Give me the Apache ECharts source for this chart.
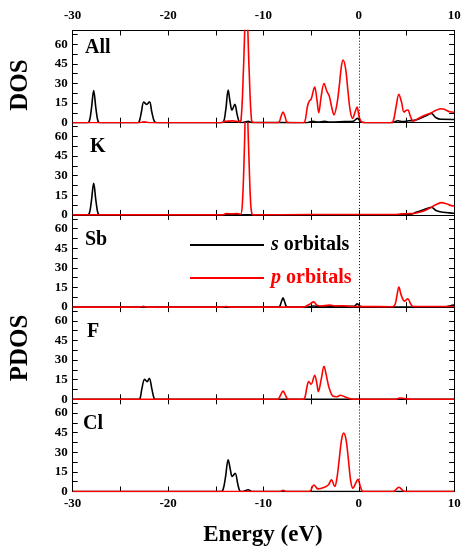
<!DOCTYPE html>
<html>
<head>
<meta charset="utf-8">
<script src="https://cdn.jsdelivr.net/npm/echarts@6/dist/echarts.min.js"></script>
<style>
  html, body { margin: 0; padding: 0; background: #fff; }
  #chart { width: 463px; height: 548px; }
</style>
</head>
<body>
<div id="chart"></div>
<script>
// Total and projected density of states, s (black) and p (red) channels, [energy eV, states]
const panelNames = ['All', 'K', 'Sb', 'F', 'Cl'];
const xTicks = [-30, -20, -10, 0, 10];
const yTicks = [0, 15, 30, 45, 60];

const allS = [[-30,0],[-28.6,0],[-28.3,0.5],[-28.05,10],[-27.8,24.5],[-27.55,10],[-27.3,0.5],[-27.0,0],
  [-23.3,0],[-23.05,0.5],[-22.8,8],[-22.55,15.8],[-22.25,14],[-21.95,16],[-21.7,8],[-21.4,0.5],[-21.1,0],
  [-14.5,0],[-14.2,0.5],[-13.95,10],[-13.7,25],[-13.5,16],[-13.3,9.5],[-13.0,14],[-12.75,6],[-12.5,0.5],[-12.2,0.2],[-11.6,1],[-11.2,0.2],
  [-5.5,0],[-4.8,1],[-4.3,0.5],[-3.6,1],[-3.0,0.5],[-1.5,0.8],[-0.6,1],[-0.15,3.3],[0.3,0.3],[0.8,0],
  [3.5,0],[4.1,1.5],[4.6,0.8],[5.2,1.5],[5.8,1.8],[6.5,3.5],[7.1,5.5],[7.6,7],[8.1,3.8],[8.6,2.6],[10,2.5]];
const allP = [[-30,0],[-23,0],[-22.5,0.6],[-22,0],[-14.5,0],[-14,1],[-13.2,1.4],[-12.6,0.8],
  [-12.35,2],[-12.1,40],[-11.8,95],[-11.5,40],[-11.25,2],[-11,0],
  [-8.6,0],[-8.35,0.5],[-8.15,5],[-7.95,8.2],[-7.75,5],[-7.55,0.5],[-7.3,0],
  [-5.9,0],[-5.65,1],[-5.4,12],[-5.2,16.5],[-5.0,18],[-4.63,27.3],[-4.4,18],[-4.2,7.6],[-3.95,20],[-3.65,30],[-3.35,24],[-3.1,20.4],[-2.85,12],
  [-2.6,6],[-2.3,14],[-2.05,28],[-1.85,42],[-1.66,48],[-1.4,42],[-1.15,25],[-0.9,9],[-0.65,3.3],[-0.4,8],[-0.19,12],[0.05,4],[0.3,0.5],[0.6,0],
  [3.3,0],[3.6,1],[3.9,12],[4.2,21.7],[4.5,15],[4.73,8.2],[5.0,9.5],[5.15,9.7],[5.4,5],[5.7,1.3],[6.2,3],[6.7,5],[7.2,6.5],[7.6,7.6],
  [8.1,9.5],[8.64,10.7],[9.1,9.8],[9.5,8.4],[10,8]];

const kS = [[-30,0],[-28.6,0],[-28.3,0.5],[-28.05,10],[-27.8,24.2],[-27.55,10],[-27.3,0.5],[-27,0],
  [4.5,0],[5.5,0.5],[6,2],[6.8,4],[7.6,5.9],[8.1,3.3],[8.8,2],[9.9,1.3],[10,1.2]];
const kP = [[-30,0],[-14.3,0],[-13.9,1],[-13.3,0.8],[-12.8,1],[-12.4,0.5],[-12.2,10],[-12.0,50],[-11.8,100],[-11.55,50],[-11.35,10],[-11.2,0.5],[-11,0],
  [-5,0.3],[0,0.3],[3.7,0.3],[4.5,0.8],[5.5,1],[6,1.5],[6.8,3],[7.4,5],[8,7.5],[8.64,9.4],[9.2,8.5],[9.85,6.9],[10,7]];

const sbS = [[-30,0],[-22.9,0],[-22.6,0.5],[-22.3,0],[-8.5,0],[-8.3,0.5],[-8.1,4.5],[-7.95,7.1],[-7.8,4.5],[-7.6,0.5],[-7.4,0],
  [-5.3,0],[-4.8,0.8],[-4,0.5],[-3,0.6],[-1.5,0.5],[-0.5,0.6],[-0.16,2.5],[0.2,0.4],[0.6,0],[9,0],[9.6,1],[10,1.5]];
const sbP = [[-30,0],[-23,0],[-22.6,0.5],[-22.2,0],[-14.3,0],[-13.9,0.5],[-13.5,0],[-6,0],[-5.6,0.5],[-5.1,2.5],[-4.73,4],[-4.4,1.5],[-4.0,0.8],
  [-3.06,1.5],[-2.5,0.8],[-1.6,1],[-0.8,0.5],[0.3,0.4],[3.5,0.3],[3.8,2],[4.0,9],[4.2,15.3],[4.45,9],[4.8,4.6],[5.14,6.4],[5.4,3],[5.7,0.5],[10,0.5]];

const fS = [[-30,0],[-23.2,0],[-22.95,0.5],[-22.75,8],[-22.46,15.3],[-22.2,13.5],[-21.97,16],[-21.7,8],[-21.45,0.5],[-21.2,0],[10,0]];
const fP = [[-30,0],[-8.6,0],[-8.4,0.5],[-8.15,4],[-7.94,6.4],[-7.75,4],[-7.5,0.5],[-7.3,0],
  [-5.9,0],[-5.67,1],[-5.45,9],[-5.25,13.5],[-5.0,11.5],[-4.63,18.4],[-4.4,12],[-4.24,5.9],[-3.95,15],[-3.65,25.2],[-3.4,18],[-3.12,8.9],
  [-2.7,2.3],[-2.3,2],[-1.94,3.1],[-1.5,2],[-0.96,0.5],[-0.5,0],[3.8,0],[4.3,1],[4.8,0.6],[5.5,0],[10,0]];

const clS = [[-30,0],[-14.6,0],[-14.3,0.5],[-14.0,10],[-13.7,24.2],[-13.45,16],[-13.28,11.5],[-12.97,14],[-12.7,6],[-12.48,0.5],[-12.2,0],
  [-11.6,1.3],[-11.2,0],[10,0]];
const clP = [[-30,0],[-8.3,0],[-7.94,1],[-7.6,0],[-5.2,0],[-4.7,5],[-4.28,2],[-3.6,3.3],[-3.2,5],[-2.88,8.9],[-2.53,3.8],
  [-2.3,10],[-2.05,25],[-1.8,40],[-1.59,44.6],[-1.35,40],[-1.1,25],[-0.85,8],[-0.61,2.5],[-0.35,6],[-0.09,9.4],[0.15,4],[0.36,0.3],[0.6,0],
  [3.6,0],[4.2,3.3],[4.7,0.3],[5,0],[10,0]];

const sSeries = [allS, kS, sbS, fS, clS];
const pSeries = [allP, kP, sbP, fP, clP];

const FONT = "'Liberation Serif', 'Times New Roman', serif";
const GRID_LEFT = 72.7, GRID_RIGHT = 8.8, GRID_TOP = 30.5, PANEL_H = 92.2;
const Y_MAX = 70.5;

const grids = [], xAxes = [], yAxes = [], series = [], graphics = [];
const labelY = [47.8, 147, 240, 331.5, 423.5];
const labelX = [85, 90, 85, 87, 83];

panelNames.forEach((name, i) => {
  grids.push({ left: GRID_LEFT, right: GRID_RIGHT, top: GRID_TOP + PANEL_H * i, height: PANEL_H, outerBoundsMode: 'none' });
  const isFirst = i === 0, isLast = i === panelNames.length - 1;
  const xBase = {
    type: 'value', gridIndex: i, min: -30, max: 10, interval: 5,
    axisLine: { show: true, onZero: false, lineStyle: { color: '#000', width: 1 } },
    axisTick: { show: true, inside: true, length: 5, lineStyle: { color: '#000', width: 1 } },
    splitLine: { show: false }
  };
  xAxes.push(Object.assign({}, xBase, {
    position: 'bottom',
    axisLabel: { show: isLast, margin: 6, color: '#000', fontFamily: FONT, fontWeight: 'bold', fontSize: 13,
      formatter: v => (xTicks.includes(v) ? String(v) : '') }
  }));
  xAxes.push(Object.assign({}, xBase, {
    position: 'top',
    axisLabel: { show: isFirst, margin: 8, color: '#000', fontFamily: FONT, fontWeight: 'bold', fontSize: 13,
      formatter: v => (xTicks.includes(v) ? String(v) : '') }
  }));
  const yBase = {
    type: 'value', gridIndex: i, min: 0, max: Y_MAX, interval: 7.5,
    axisLine: { show: true, onZero: false, lineStyle: { color: '#000', width: 1 } },
    axisTick: { show: true, inside: true, length: 5, lineStyle: { color: '#000', width: 1 } },
    splitLine: { show: false }
  };
  yAxes.push(Object.assign({}, yBase, {
    position: 'left',
    axisLabel: { show: true, margin: 5, color: '#000', fontFamily: FONT, fontWeight: 'bold', fontSize: 13,
      showMaxLabel: false, formatter: v => (yTicks.includes(v) ? String(v) : '') }
  }));
  yAxes.push(Object.assign({}, yBase, { position: 'right', axisLabel: { show: false } }));

  series.push({
    name: 's orbitals', type: 'line', xAxisIndex: 2 * i, yAxisIndex: 2 * i,
    data: sSeries[i], showSymbol: false, symbol: 'none', smooth: 0.35, clip: true,
    lineStyle: { color: '#000', width: 1.6 }, itemStyle: { color: '#000' }, z: 2, animation: false
  });
  series.push({
    name: 'p orbitals', type: 'line', xAxisIndex: 2 * i, yAxisIndex: 2 * i,
    data: pSeries[i], showSymbol: false, symbol: 'none', smooth: 0.35, clip: true,
    lineStyle: { color: '#ff0000', width: 1.6 }, itemStyle: { color: '#ff0000' }, z: 3, animation: false,
    markLine: {
      silent: true, symbol: ['none', 'none'], animation: false, label: { show: false },
      lineStyle: { color: '#000', width: 1, type: [1, 2] },
      data: [{ xAxis: 0 }]
    }
  });

  graphics.push({
    type: 'text', x: labelX[i], y: labelY[i],
    style: { text: name, font: `bold 20px ${FONT}`, fill: '#000', verticalAlign: 'middle', align: 'left' }
  });
});

// axis titles
graphics.push({ type: 'text', x: 20.5, y: 85, rotation: Math.PI / 2,
  style: { text: 'DOS', font: `bold 25px ${FONT}`, fill: '#000', align: 'center', verticalAlign: 'middle' } });
graphics.push({ type: 'text', x: 20.5, y: 348, rotation: Math.PI / 2,
  style: { text: 'PDOS', font: `bold 25px ${FONT}`, fill: '#000', align: 'center', verticalAlign: 'middle' } });
graphics.push({ type: 'text', x: 263, y: 535,
  style: { text: 'Energy (eV)', font: `bold 23px ${FONT}`, fill: '#000', align: 'center', verticalAlign: 'middle' } });

function legendFor(name, top, color, letter) {
  return {
    show: true,
    data: [{ name: name, icon: 'rect' }], left: 190, top: top, padding: 0, itemWidth: 74, itemHeight: 2,
    selectedMode: false,
    itemStyle: { color: color, borderWidth: 0 },
    formatter: () => `{i|${letter}}{b| orbitals}`,
    textStyle: {
      color: color,
      rich: {
        i: { fontFamily: FONT, fontSize: 20, fontWeight: 'bold', fontStyle: 'italic', color: color, padding: [0, 0, 0, 2], lineHeight: 22 },
        b: { fontFamily: FONT, fontSize: 20, fontWeight: 'bold', color: color, lineHeight: 22 }
      }
    }
  };
}

const chart = echarts.init(document.getElementById('chart'), null, { renderer: 'canvas' });
chart.setOption({
  backgroundColor: '#fff',
  animation: false,
  grid: grids,
  xAxis: xAxes,
  yAxis: yAxes,
  legend: [legendFor('s orbitals', 235, '#000', 's'), legendFor('p orbitals', 268, '#ff0000', 'p')],
  graphic: graphics,
  series: series
});
</script>
</body>
</html>
